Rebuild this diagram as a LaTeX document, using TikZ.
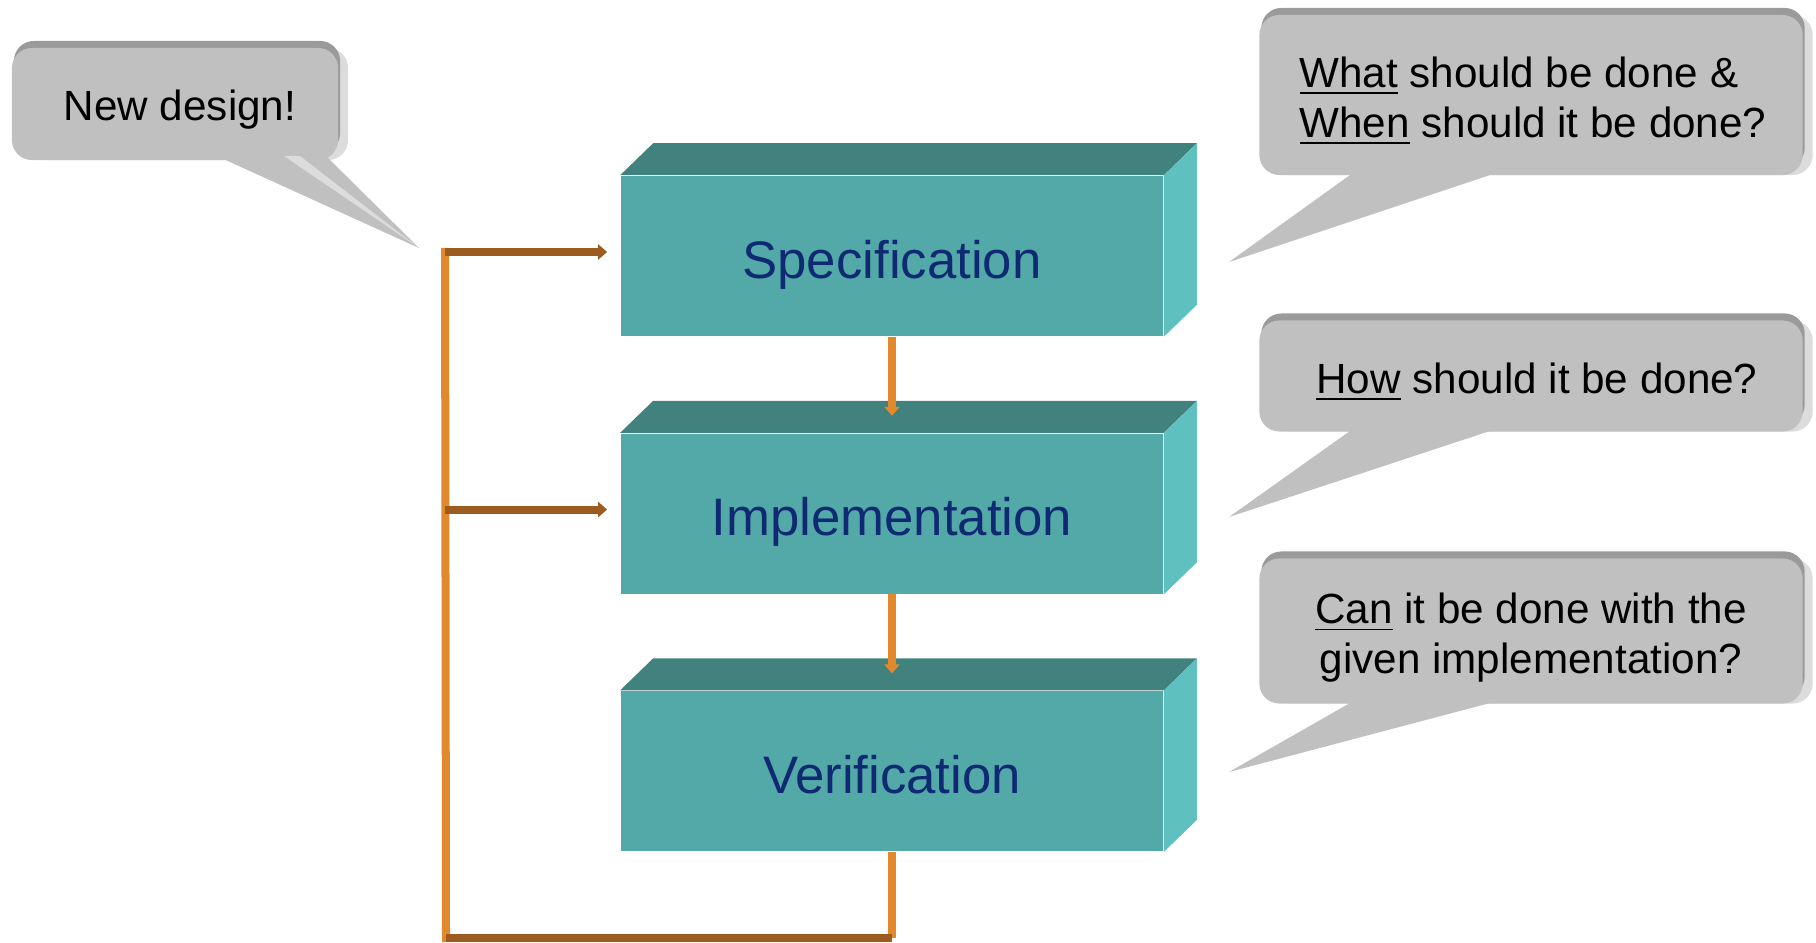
\documentclass[tikz,border=0pt]{standalone}
\usepackage{fontspec}
\setmainfont{Liberation Sans}
\usetikzlibrary{positioning, arrows.meta, shadows}

\definecolor{stagefront}{HTML}{53A9A7}
\definecolor{stagetop}{HTML}{41827F}
\definecolor{stageside}{HTML}{5FC1BF}
\definecolor{stagetext}{HTML}{0F2A73}
\definecolor{bubblegray}{HTML}{C0C0C0}
\definecolor{bubbledark}{HTML}{9A9A9A}
\definecolor{bubblelight}{HTML}{DCDCDC}
\definecolor{floworange}{HTML}{E2892D}
\definecolor{flowbrown}{HTML}{9C5B1F}

\begin{document}
\begin{tikzpicture}[
	% pixel-like units, y pointing down
	x=0.01cm, y=-0.01cm,
	node distance=0.96cm and 1cm,
	% Style for the three design stages
	stage/.style={
		rectangle,
		fill=stagefront,
		minimum width=5.42cm,
		minimum height=1.6cm,
		inner sep=0pt,
		text height=0.5cm,
		text depth=0.06cm,
		text=stagetext,
		font=\fontsize{15}{18}\selectfont
	},
	% Style for the speech bubbles
	bubble/.style={
		rectangle,
		rounded corners=0.2cm,
		fill=bubblegray,
		inner sep=0pt,
		general shadow={fill=bubblelight, shadow xshift=0.1cm, shadow yshift=0cm},
		general shadow={fill=bubbledark, shadow xshift=0.02cm, shadow yshift=0.07cm}
	},
	bubbletext/.style={
		inner sep=0pt,
		align=center,
		font=\fontsize{12}{14.2}\selectfont
	},
	tail/.style={fill=bubblegray},
	flowdown/.style={
		draw=floworange,
		line width=0.08cm,
		-{Triangle[length=0.09cm, width=0.15cm]}
	},
	flowright/.style={
		draw=flowbrown,
		line width=0.08cm,
		-{Triangle[length=0.09cm, width=0.15cm]}
	}
	]
	\useasboundingbox (0,0) rectangle (1816,943);
	
	% The three stages
	\node[stage] (spec) at (892,256) {Specification};
	\node[stage, below=of spec] (impl) {Implementation};
	\node[stage, below=of impl] (verif) {Verification};
	
	% 3D faces of the stages
	\foreach \b in {spec,impl,verif}{
		\fill[stagetop] (\b.north west) -- ++(33,-32) -- ([shift={(0.33cm,0.32cm)}]\b.north east) -- (\b.north east) -- cycle;
		\fill[stageside] (\b.north east) -- ([shift={(0.33cm,0.32cm)}]\b.north east) -- ([shift={(0.33cm,0.32cm)}]\b.south east) -- (\b.south east) -- cycle;
	}
	
	% Flow between the stages
	\draw[flowdown, shorten >=0.17cm] (spec.south) -- (impl.north);
	\draw[flowdown, shorten >=0.17cm] (impl.south) -- (verif.north);
	
	% Feedback loop
	\coordinate (fbtop) at ([xshift=-1.75cm, yshift=0.04cm]spec.west);
	\coordinate (fbbot) at (446,938);
	\draw[floworange, line width=0.08cm, line cap=rect] (fbtop) -- (fbbot);
	\draw[floworange, line width=0.08cm] (verif.south) -- (verif.south |- fbbot);
	\draw[flowbrown, line width=0.08cm] (fbbot) -- (verif.south |- fbbot);
	\draw[flowright, shorten >=0.13cm] (fbtop) -- (fbtop -| spec.west);
	\draw[flowright, shorten >=0.13cm] ([yshift=0.04cm]fbtop |- impl.west) -- ([yshift=0.04cm]impl.west);
	
	% Speech bubbles
	\node[bubble, minimum width=3.26cm, minimum height=1.12cm] (newbox) at (175,104) {};
	\fill[tail] (208,152) -- (322,152) -- (419,248) -- cycle;
	\fill[bubblelight] (284,156) -- (300,156) -- (419,248) -- cycle;
	\node[bubbletext] (newdesign) at (180,110) {New design!};
	
	\node[bubble, minimum width=5.43cm, minimum height=1.6cm] (whatbox) at (1531,95) {};
	\fill[tail] (1350,160) -- (1490,160) -- (1490,175) -- (1229,262) -- (1350,175) -- cycle;
	\node[bubbletext, align=left] (what) at (1533,101) {\underline{What} should be done \&\\\underline{When} should it be done?};
	
	\node[bubble, minimum width=5.43cm, minimum height=1.11cm] (howbox) at (1531,376) {};
	\fill[tail] (1350,420) -- (1490,420) -- (1490,431) -- (1229,517) -- (1350,431) -- cycle;
	\node[bubbletext] (how) at (1537,382) {\underline{How} should it be done?};
	
	\node[bubble, minimum width=5.43cm, minimum height=1.45cm] (canbox) at (1531,631) {};
	\fill[tail] (1350,690) -- (1490,690) -- (1490,703) -- (1229,772) -- (1350,703) -- cycle;
	\node[bubbletext] (can) at (1531,638) {\underline{Can} it be done with the\\given implementation?};
	
\end{tikzpicture}
\end{document}
